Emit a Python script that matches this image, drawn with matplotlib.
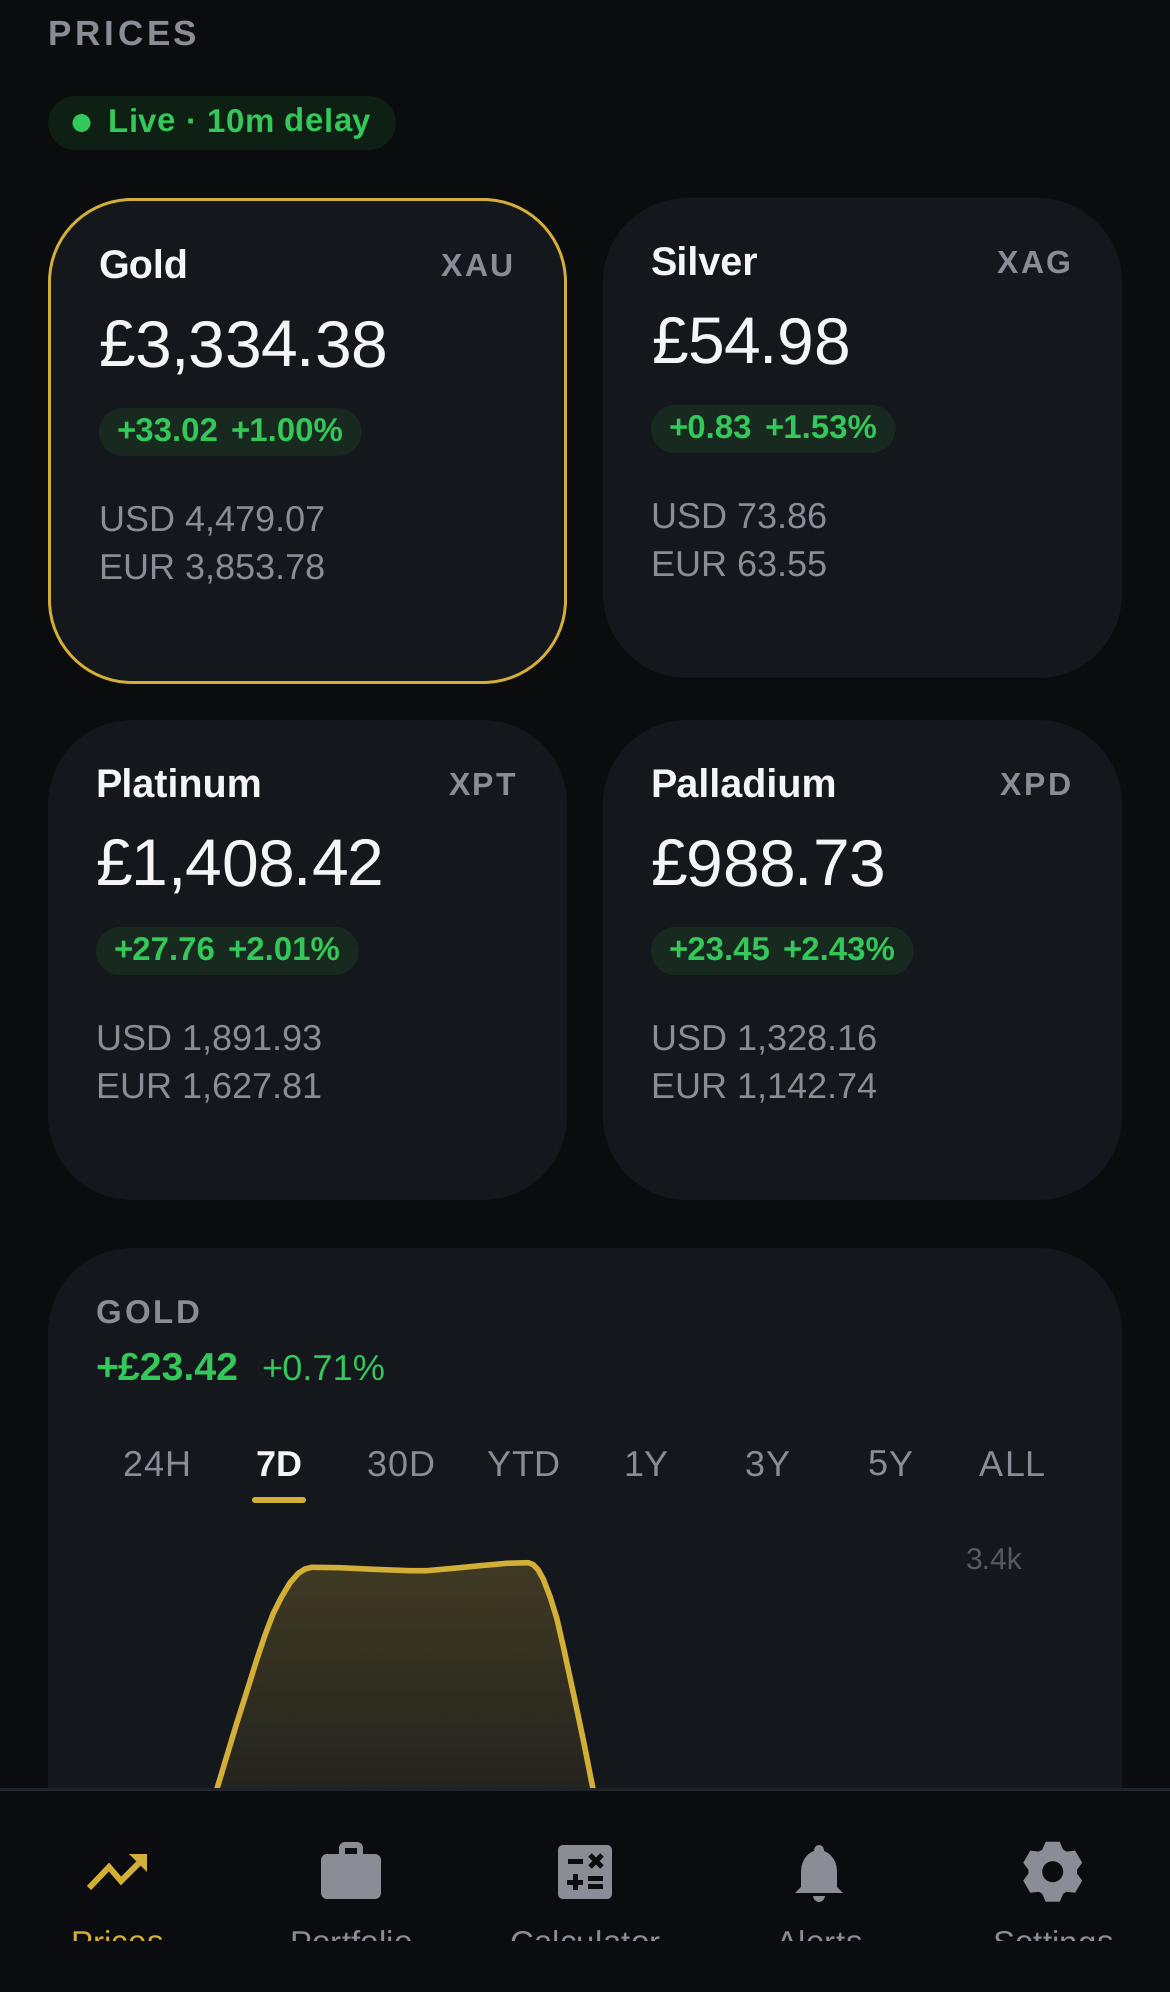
import numpy as np
import matplotlib
matplotlib.use("Agg")
import matplotlib.pyplot as plt
from matplotlib.font_manager import FontProperties
from matplotlib.patches import Circle, Rectangle, Polygon, PathPatch
from matplotlib.path import Path
from matplotlib.text import Text

plt.rcParams['font.family'] = ['Liberation Sans', 'DejaVu Sans']
plt.rcParams['text.hinting'] = 'no_hinting'

# card values
metals = ['Gold', 'Silver', 'Platinum', 'Palladium']
codes = ['XAU', 'XAG', 'XPT', 'XPD']
prices = ['£3,334.38', '£54.98', '£1,408.42', '£988.73']
changes = ['+33.02', '+0.83', '+27.76', '+23.45']
change_pcts = ['+1.00%', '+1.53%', '+2.01%', '+2.43%']
usd_values = ['USD 4,479.07', 'USD 73.86', 'USD 1,891.93', 'USD 1,328.16']
eur_values = ['EUR 3,853.78', 'EUR 63.55', 'EUR 1,627.81', 'EUR 1,142.74']

# chart values (days, price in GBP)
tabs = ['24H', '7D', '30D', 'YTD', '1Y', '3Y', '5Y', 'ALL']
chart_days = [0.80, 0.869, 0.935, 1.007, 1.079, 1.150, 1.210, 1.269, 1.329, 1.389,
              1.448, 1.496, 1.544, 1.747, 1.985, 2.248, 2.367, 2.558, 2.749, 2.940,
              3.095, 3.130, 3.166, 3.202, 3.250, 3.298, 3.345, 3.417, 3.488, 3.555, 3.62]
chart_prices = [3140, 3170.7, 3201.3, 3234.7, 3266.3, 3298, 3323, 3344.7, 3361.3, 3375.3,
                3384.7, 3389, 3390.7, 3390.3, 3388.7, 3387.3, 3387.3, 3389.7, 3392.3, 3394.7,
                3395.3, 3393.3, 3388, 3378.7, 3361.3, 3339.7, 3311.3, 3264.7, 3218, 3170.7, 3130]

nav_labels = ['Prices', 'Portfolio', 'Calculator', 'Alerts', 'Settings']

BG = '#0B0C0E'
NAV = '#0B0C0F'
CARD = '#14181D'
GOLD = '#D4AF37'
GREEN = '#34C759'
GREY = '#8A8D96'
DIM = '#565A61'
WHITE = '#F5F5F7'


def px(size):
    # font size in pixels to points at dpi 100
    return size * 0.72


class SpacedText(Text):
    # one text object, drawn with letter spacing
    def __init__(self, x, y, s, spacing=0, **kw):
        super().__init__(x, y, s, **kw)
        self.spacing = spacing

    def draw(self, renderer):
        s, x0 = self.get_text(), self.get_position()[0]
        prop = self.get_fontproperties()
        for i, ch in enumerate(s):
            w = renderer.get_text_width_height_descent(s[:i], prop, False)[0] if i else 0
            self.set_text(ch)
            self.set_x(x0 + w + i * self.spacing)
            super().draw(renderer)
        self.set_text(s)
        self.set_x(x0)


def label(x, y, s, size, color, weight='normal', ha='left', spacing=0, z=5):
    if spacing:
        prop = FontProperties(family=plt.rcParams['font.family'], size=px(size), weight=weight)
        w = renderer.get_text_width_height_descent(s, prop, False)[0] + (len(s) - 1) * spacing
        if ha == 'right':
            x = x - w
        elif ha == 'center':
            x = x - w / 2
        t = SpacedText(x, y, s, spacing=spacing, fontproperties=prop, color=color,
                       ha='left', va='baseline', zorder=z)
        ax.add_artist(t)
        return t
    return ax.text(x, y, s, fontsize=px(size), color=color, fontweight=weight,
                   ha=ha, va='baseline', zorder=z)


def rbox(x0, y0, x1, y1, r, color, edge='none', lw=0, z=2):
    # rounded rectangle with proper circular corners
    k = r * 0.4477
    verts = [(x0 + r, y0), (x1 - r, y0),
             (x1 - k, y0), (x1, y0 + k), (x1, y0 + r), (x1, y1 - r),
             (x1, y1 - k), (x1 - k, y1), (x1 - r, y1), (x0 + r, y1),
             (x0 + k, y1), (x0, y1 - k), (x0, y1 - r), (x0, y0 + r),
             (x0, y0 + k), (x0 + k, y0), (x0 + r, y0), (x0 + r, y0)]
    codes_ = [Path.MOVETO, Path.LINETO,
              Path.CURVE4, Path.CURVE4, Path.CURVE4, Path.LINETO,
              Path.CURVE4, Path.CURVE4, Path.CURVE4, Path.LINETO,
              Path.CURVE4, Path.CURVE4, Path.CURVE4, Path.LINETO,
              Path.CURVE4, Path.CURVE4, Path.CURVE4, Path.CLOSEPOLY]
    p = PathPatch(Path(verts, codes_), facecolor=color, edgecolor=edge, linewidth=lw, zorder=z)
    ax.add_patch(p)
    return p


fig = plt.figure(figsize=(11.7, 19.92), dpi=100, facecolor=BG)
ax = fig.add_axes([0, 0, 1, 1])
ax.set_xlim(0, 1170)
ax.set_ylim(1992, 0)
ax.axis('off')
renderer = fig.canvas.get_renderer()

label(48, 45, 'PRICES', 35, GREY, 'bold', spacing=3.7)

# live pill
rbox(48, 96, 396, 150, 27, '#0E1F14')
ax.add_patch(Circle((81.5, 123), 9, color=GREEN, lw=0, zorder=3))
label(108, 132, 'Live · 10m delay', 33, GREEN, 'bold', spacing=0.5)

# metal cards
card_x = [48, 603, 48, 603]
card_y = [198, 198, 720, 720]
for i, name in enumerate(metals):
    x, y = card_x[i], card_y[i]
    inset = 0
    if i == 0:
        rbox(49.5, 199.5, 565.5, 682.5, 82.5, CARD, edge=GOLD, lw=px(3))
        inset = 3
    else:
        rbox(x, y, x + 519, y + 480, 84, CARD)
    tx = x + 48 + inset
    ty = y + inset
    nudge = 0 if i == 1 else -1
    label(tx + nudge, ty + 78, name, 39.5, WHITE, 'bold')
    label(x + 519 - 51.5 - inset, ty + 75, codes[i], 32, GREY, 'bold', ha='right', spacing=2.3)
    label(tx + nudge, ty + 165, prices[i], 66, WHITE, spacing=-0.6)

    a = label(tx + 18, ty + 240, changes[i], 33, GREEN, 'bold')
    w1 = a.get_window_extent(renderer).width
    b = label(tx + 18 + w1 + 12, ty + 240, change_pcts[i], 33, GREEN, 'bold')
    w2 = b.get_window_extent(renderer).width
    rbox(tx, ty + 207, tx + 18 + w1 + 12 + w2 + 18, ty + 255, 24, '#18291F', z=3)

    label(tx, ty + 329.5, usd_values[i], 36, GREY)
    label(tx, ty + 377.5, eur_values[i], 36, GREY)

# chart card
rbox(48, 1248, 1122, 2060, 84, CARD)
label(96, 1323, 'GOLD', 33, GREY, 'bold', spacing=2.6)
label(95, 1380, '+£23.42', 39.3, GREEN, 'bold')
label(261, 1380, '+0.71%', 36.3, GREEN)

tab_w = 978 / len(tabs)
for i, tab in enumerate(tabs):
    active = tab == '7D'
    label(95 + tab_w * (i + 0.5), 1476, tab, 36, WHITE if active else GREY,
          'bold' if active else 'normal', ha='center', spacing=0.6)
rbox(252, 1497, 306, 1503, 3, GOLD)

# bottom nav
ax.add_patch(Rectangle((0, 1788), 1170, 204, facecolor=NAV, edgecolor='none', zorder=6))
ax.add_patch(Rectangle((0, 1788), 1170, 3, facecolor='#1F242B', edgecolor='none', zorder=7))

nav_clip = Rectangle((0, 1900), 1170, 41, transform=ax.transData)
for i, name in enumerate(nav_labels):
    t = label(116.5 + 234 * i, 1954, name, 33, GOLD if i == 0 else GREY,
              ha='center', spacing=0.2, z=8)
    t.set_clip_path(nav_clip)
    t.set_clip_on(True)

# trending icon
ax.plot([89, 109, 121, 140], [1888, 1867, 1881, 1862], color=GOLD, lw=px(6),
        solid_capstyle='butt', solid_joinstyle='miter', zorder=8)
ax.add_patch(Polygon([(129, 1854), (147, 1854), (147, 1872)], color=GOLD, lw=0, zorder=8))

# briefcase icon
rbox(339, 1842, 363, 1862, 6, GREY, z=8)
ax.add_patch(Rectangle((345, 1848), 12, 7, color=NAV, lw=0, zorder=8))
rbox(321, 1854, 381, 1899, 6, GREY, z=8)

# calculator icon
rbox(558, 1845, 612, 1899, 5, GREY, z=8)
for bar in [(568, 1858.5, 15, 5), (588, 1876, 15, 5), (588, 1883.5, 15, 5),
            (567, 1880, 16, 5), (572.5, 1874, 5, 16)]:
    ax.add_patch(Rectangle(bar[:2], bar[2], bar[3], color=NAV, lw=0, zorder=9))
ax.plot([590, 602], [1855, 1867], color=NAV, lw=px(5), solid_capstyle='butt', zorder=9)
ax.plot([590, 602], [1867, 1855], color=NAV, lw=px(5), solid_capstyle='butt', zorder=9)

# bell icon
bell = Path([(795, 1893), (801, 1887), (801, 1872), (801, 1860), (808, 1853), (814, 1851),
             (814, 1843), (824, 1843), (824, 1851), (830, 1853), (837, 1860), (837, 1872),
             (837, 1887), (843, 1893), (795, 1893)],
            [Path.MOVETO, Path.LINETO, Path.LINETO, Path.CURVE4, Path.CURVE4, Path.CURVE4,
             Path.CURVE4, Path.CURVE4, Path.CURVE4, Path.CURVE4, Path.CURVE4, Path.CURVE4,
             Path.LINETO, Path.LINETO, Path.CLOSEPOLY])
ax.add_patch(PathPatch(bell, facecolor=GREY, edgecolor='none', zorder=8))
clapper = Path([(813, 1896), (814, 1904), (824, 1904), (825, 1896), (813, 1896)],
               [Path.MOVETO, Path.CURVE4, Path.CURVE4, Path.CURVE4, Path.CLOSEPOLY])
ax.add_patch(PathPatch(clapper, facecolor=GREY, edgecolor='none', zorder=8))

# gear icon
gear = []
for k in range(6):
    a = np.deg2rad(60 * k)
    for dx, dy in [(-10.5, -22), (-7, -30), (7, -30), (10.5, -22)]:
        gear.append((1052.7 + dx * np.cos(a) - dy * np.sin(a),
                     1871.7 + dx * np.sin(a) + dy * np.cos(a)))
ax.add_patch(Polygon(gear, color=GREY, lw=0, zorder=8))
ax.add_patch(Circle((1052.7, 1871.7), 10.5, color=NAV, lw=0, zorder=9))

# price chart, stops at the top of the nav bar
cx = fig.add_axes([96 / 1170, 1 - 1788 / 1992, 978 / 1170, 248 / 1992], zorder=3)
cx.axis('off')
cx.set_xlim(0, 7)
cx.set_ylim(3170, 3418)

area = cx.fill_between(chart_days, chart_prices, 3000, color='none', lw=0)
grad = np.zeros((256, 1, 4))
grad[..., :3] = matplotlib.colors.to_rgb(GOLD)
grad[:, 0, 3] = np.linspace(0.23, 0.09, 256)
img = cx.imshow(grad, extent=[0, 7, 3170, 3397], aspect='auto', origin='upper', zorder=1)
img.set_clip_path(area.get_paths()[0], transform=cx.transData)
cx.set_xlim(0, 7)
cx.set_ylim(3170, 3418)
cx.plot(chart_days, chart_prices, color=GOLD, lw=px(5.6), solid_joinstyle='round', zorder=2)
cx.text(6.635, 3396, '3.4k', fontsize=px(30), color=DIM, ha='right', va='center', zorder=3)

fig.savefig('out.png', dpi=100, facecolor=BG)
